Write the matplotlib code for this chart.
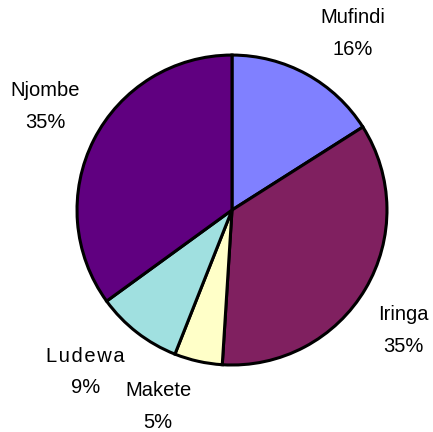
import numpy as np
import matplotlib
matplotlib.use("Agg")
import matplotlib.pyplot as plt

# district shares (%)
districts = ["Mufindi", "Iringa", "Makete", "L\u200au\u200ad\u200ae\u200aw\u200aa", "Njombe"]
shares = [16, 35, 5, 9, 35]
colors = ["#8080FF", "#802060", "#FFFFC8", "#A0E0E0", "#600080"]

plt.rcParams['font.family'] = ['Liberation Sans', 'DejaVu Sans']

fig = plt.figure(figsize=(4.33, 4.32), dpi=100)
ax = fig.add_axes([0, 0, 1, 1])

wedges, _ = ax.pie(shares, colors=colors, startangle=90, counterclock=False,
                   radius=1, center=(0, 0), frame=True,
                   wedgeprops=dict(edgecolor='black', linewidth=2.2))
ax.set_xlim(-1.497, 1.297)
ax.set_ylim(-1.432, 1.355)
ax.axis('off')

# small angle nudges so labels sit like the original
nudge = [-5.5, -4.5, -8, -4.4, -2]
dist = [1.38, 1.35, 1.355, 1.41, 1.38]
for w, name, s, dn, d in zip(wedges, districts, shares, nudge, dist):
    th = np.deg2rad((w.theta1 + w.theta2) / 2 + dn)
    ax.text(d * np.cos(th), d * np.sin(th), f"{name}\n{s}%",
            ha='center', va='center', fontsize=14.5, linespacing=1.85)

fig.savefig("out.png", dpi=100)
